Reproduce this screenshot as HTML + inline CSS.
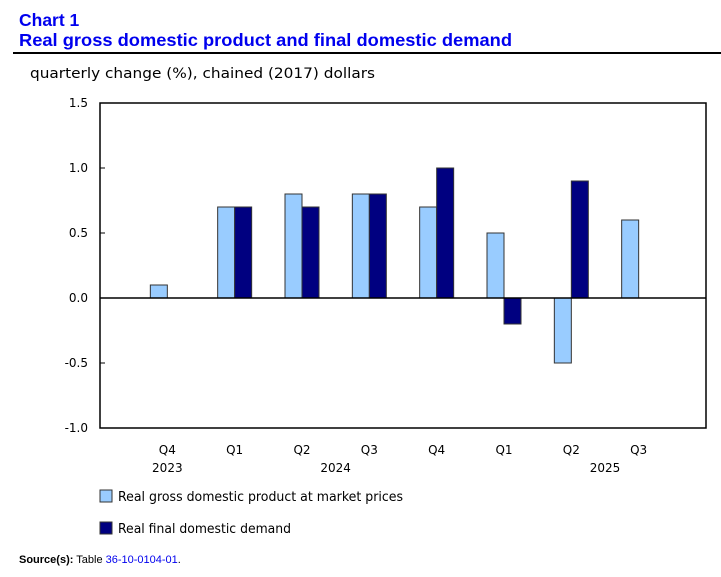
<!DOCTYPE html>
<html><head><meta charset="utf-8"><style>
body{margin:0;background:#fff;width:721px;height:572px;overflow:hidden;font-family:"Liberation Sans",sans-serif;}
</style></head><body>
<svg width="721" height="572" xmlns="http://www.w3.org/2000/svg">
<text x="19" y="26" font-family="Liberation Sans, sans-serif" font-weight="bold" font-size="17.5" fill="#0000ee">Chart 1</text>
<text x="19" y="46" font-family="Liberation Sans, sans-serif" font-weight="bold" font-size="17.5" fill="#0000ee" textLength="493" lengthAdjust="spacingAndGlyphs">Real gross domestic product and final domestic demand</text>
<rect x="13" y="52" width="708" height="2" fill="#000"/>
<text x="30" y="78" font-family="DejaVu Sans, sans-serif" font-size="14" fill="#000" textLength="345" lengthAdjust="spacingAndGlyphs">quarterly change (%), chained (2017) dollars</text>
<g id="plot"></g>
<rect x="100" y="490" width="12" height="12" fill="#99ccff" stroke="#333"/>
<text x="118" y="501" font-family="DejaVu Sans, sans-serif" font-size="13" textLength="285" lengthAdjust="spacingAndGlyphs">Real gross domestic product at market prices</text>
<rect x="100" y="522" width="12" height="12" fill="#000080" stroke="#333"/>
<text x="118" y="533" font-family="DejaVu Sans, sans-serif" font-size="13" textLength="173" lengthAdjust="spacingAndGlyphs">Real final domestic demand</text>
<text x="19" y="563" font-family="Liberation Sans, sans-serif" font-size="11"><tspan font-weight="bold">Source(s):</tspan> Table <tspan fill="#0000ee">36-10-0104-01</tspan>.</text>
</svg>
<script>
const categories=["Q4","Q1","Q2","Q3","Q4","Q1","Q2","Q3"];
const years=[["2023",0],["2024",2.5],["2025",6.5]];
const gdp=[0.1,0.7,0.8,0.8,0.7,0.5,-0.5,0.6];
const demand=[0.0,0.7,0.7,0.8,1.0,-0.2,0.9,0.0];
const yTicks=[1.5,1.0,0.5,0.0,-0.5,-1.0];
const NS="http://www.w3.org/2000/svg";
const g=document.getElementById("plot");
const L=100,R=706,T=103,B=428,ymin=-1,ymax=1.5;
const y=v=>B-(v-ymin)/(ymax-ymin)*(B-T);
const step=(R-L)/(categories.length+1);
const cx=i=>L+step*(i+1);
function mk(tag,a){const e=document.createElementNS(NS,tag);for(const k in a)e.setAttribute(k,a[k]);g.appendChild(e);return e;}
const frame=mk("rect",{x:L,y:T,width:R-L,height:B-T,fill:"none",stroke:"#000","stroke-width":1.5});


yTicks.forEach(v=>{
 const t=mk("line",{x1:L,x2:L+5,y1:y(v),y2:y(v),stroke:"#000"});
 
 
 const l=mk("text",{x:L-12,y:y(v)+4,"text-anchor":"end","font-family":"DejaVu Sans, sans-serif","font-size":12});
 l.textContent=v.toFixed(1);
 
 
});
const bw=17;
categories.forEach((c,i)=>{
 const x=cx(i);
 const v1=gdp[i],v2=demand[i];
 const b1=mk("rect",{x:x-bw,y:Math.min(y(v1),y(0)),width:bw,height:Math.abs(y(v1)-y(0)),fill:"#99ccff",stroke:"#333","stroke-width":1});
 
 
 const b2=mk("rect",{x:x,y:Math.min(y(v2),y(0)),width:bw,height:Math.abs(y(v2)-y(0)),fill:"#000080",stroke:"#333","stroke-width":1});
 
 
 const l=mk("text",{x:x,y:454,"text-anchor":"middle","font-family":"DejaVu Sans, sans-serif","font-size":12});
 l.textContent=c;
 
 
});
years.forEach(([yr,pos])=>{
 const l=mk("text",{x:cx(pos),y:472,"text-anchor":"middle","font-family":"DejaVu Sans, sans-serif","font-size":12});
 l.textContent=yr;
 
 
});
const z=mk("line",{x1:L,x2:R,y1:y(0),y2:y(0),stroke:"#000","stroke-width":1.5});


</script>
</body></html>
